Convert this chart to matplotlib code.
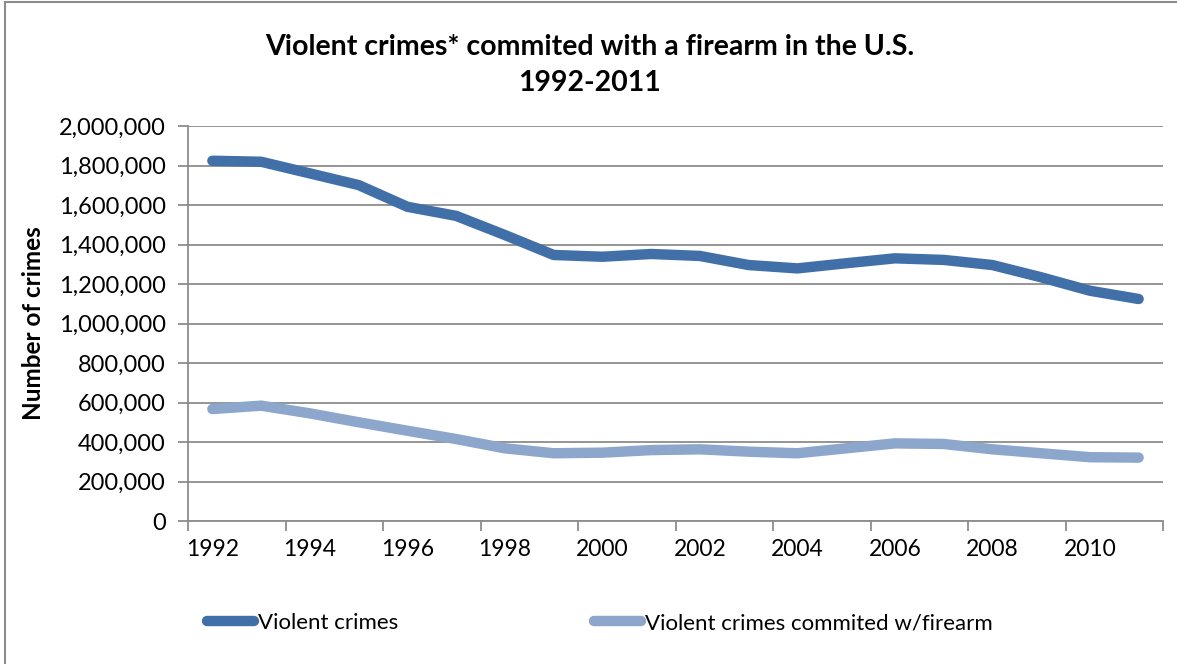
import numpy as np
import matplotlib.pyplot as plt
from matplotlib.ticker import FuncFormatter, FixedLocator

plt.rcParams['font.family'] = ['Lato', 'DejaVu Sans']

# Data
years = list(range(1992, 2012))
violent = [1824000, 1819000, 1760000, 1701000, 1591000, 1545000, 1448000, 1347000,
           1338000, 1352000, 1342000, 1296000, 1279000, 1305000, 1330000, 1322000,
           1296000, 1234000, 1166000, 1124000]
firearm = [567000, 584000, 545000, 500000, 457000, 415000, 368000, 343000,
           346000, 359000, 363000, 351000, 343000, 368000, 393000, 390000,
           363000, 343000, 323000, 321000]

dark = '#4170A8'
light = '#8CA6CC'
grid_c = '#8C8C8C'

fig = plt.figure(figsize=(11.77, 6.64), dpi=100)
ax = fig.add_axes([188/1177, 1-521/664, (1163-188)/1177, (521-126)/664])

x = np.arange(len(years))
ax.plot(x, violent, color=dark, lw=7.5, solid_capstyle='round', solid_joinstyle='round',
        label='Violent crimes')
ax.plot(x, firearm, color=light, lw=7.5, solid_capstyle='round', solid_joinstyle='round',
        label='Violent crimes commited w/firearm')

ax.set_xlim(-0.5, len(years) - 0.5)
ax.set_ylim(0, 2000000)
ax.set_yticks(np.arange(0, 2000001, 200000))
ax.yaxis.set_major_formatter(FuncFormatter(lambda v, p: f'{int(v):,}'))
ax.grid(axis='y', color=grid_c, lw=1.3)
ax.set_axisbelow(True)

# tick marks at category boundaries, labels centred on every other year
ax.xaxis.set_major_locator(FixedLocator(np.arange(-0.5, len(years), 2)))
ax.xaxis.set_major_formatter(FuncFormatter(lambda v, p: ''))
ax.xaxis.set_minor_locator(FixedLocator(x[::2]))
ax.set_xticklabels([str(y) for y in years[::2]], minor=True)
ax.tick_params(axis='x', which='minor', length=0, pad=13, labelsize=16.5)
ax.tick_params(axis='x', which='major', length=7, width=1.3, color=grid_c)
ax.tick_params(axis='y', length=7, width=1.3, color=grid_c, labelsize=17, pad=9)

for s in ['top', 'right']:
    ax.spines[s].set_visible(False)
for s in ['left', 'bottom']:
    ax.spines[s].set_color(grid_c)
    ax.spines[s].set_linewidth(1.3)

ax.set_ylabel('Number of crimes', fontsize=17.5, fontweight='bold', labelpad=10)

fig.text(0.501, 1-47/664, 'Violent crimes* commited with a firearm in the U.S.',
         ha='center', va='center', fontsize=20.5, fontweight='bold')
fig.text(0.501, 1-83/664, '1992-2011', ha='center', va='center',
         fontsize=20.5, fontweight='bold')

fig.legend(loc='center', bbox_to_anchor=(600/1177, 1-623/664), ncol=2, frameon=False,
           fontsize=16, handlelength=2.1, handletextpad=0.2, columnspacing=8.8)

# outer chart border
fig.add_artist(plt.Line2D([5/1177, 5/1177], [0, 1-2/664], color=grid_c, lw=1.5))
fig.add_artist(plt.Line2D([5/1177, 1], [1-2/664, 1-2/664], color=grid_c, lw=1.5))

fig.savefig('out.png', dpi=100)
